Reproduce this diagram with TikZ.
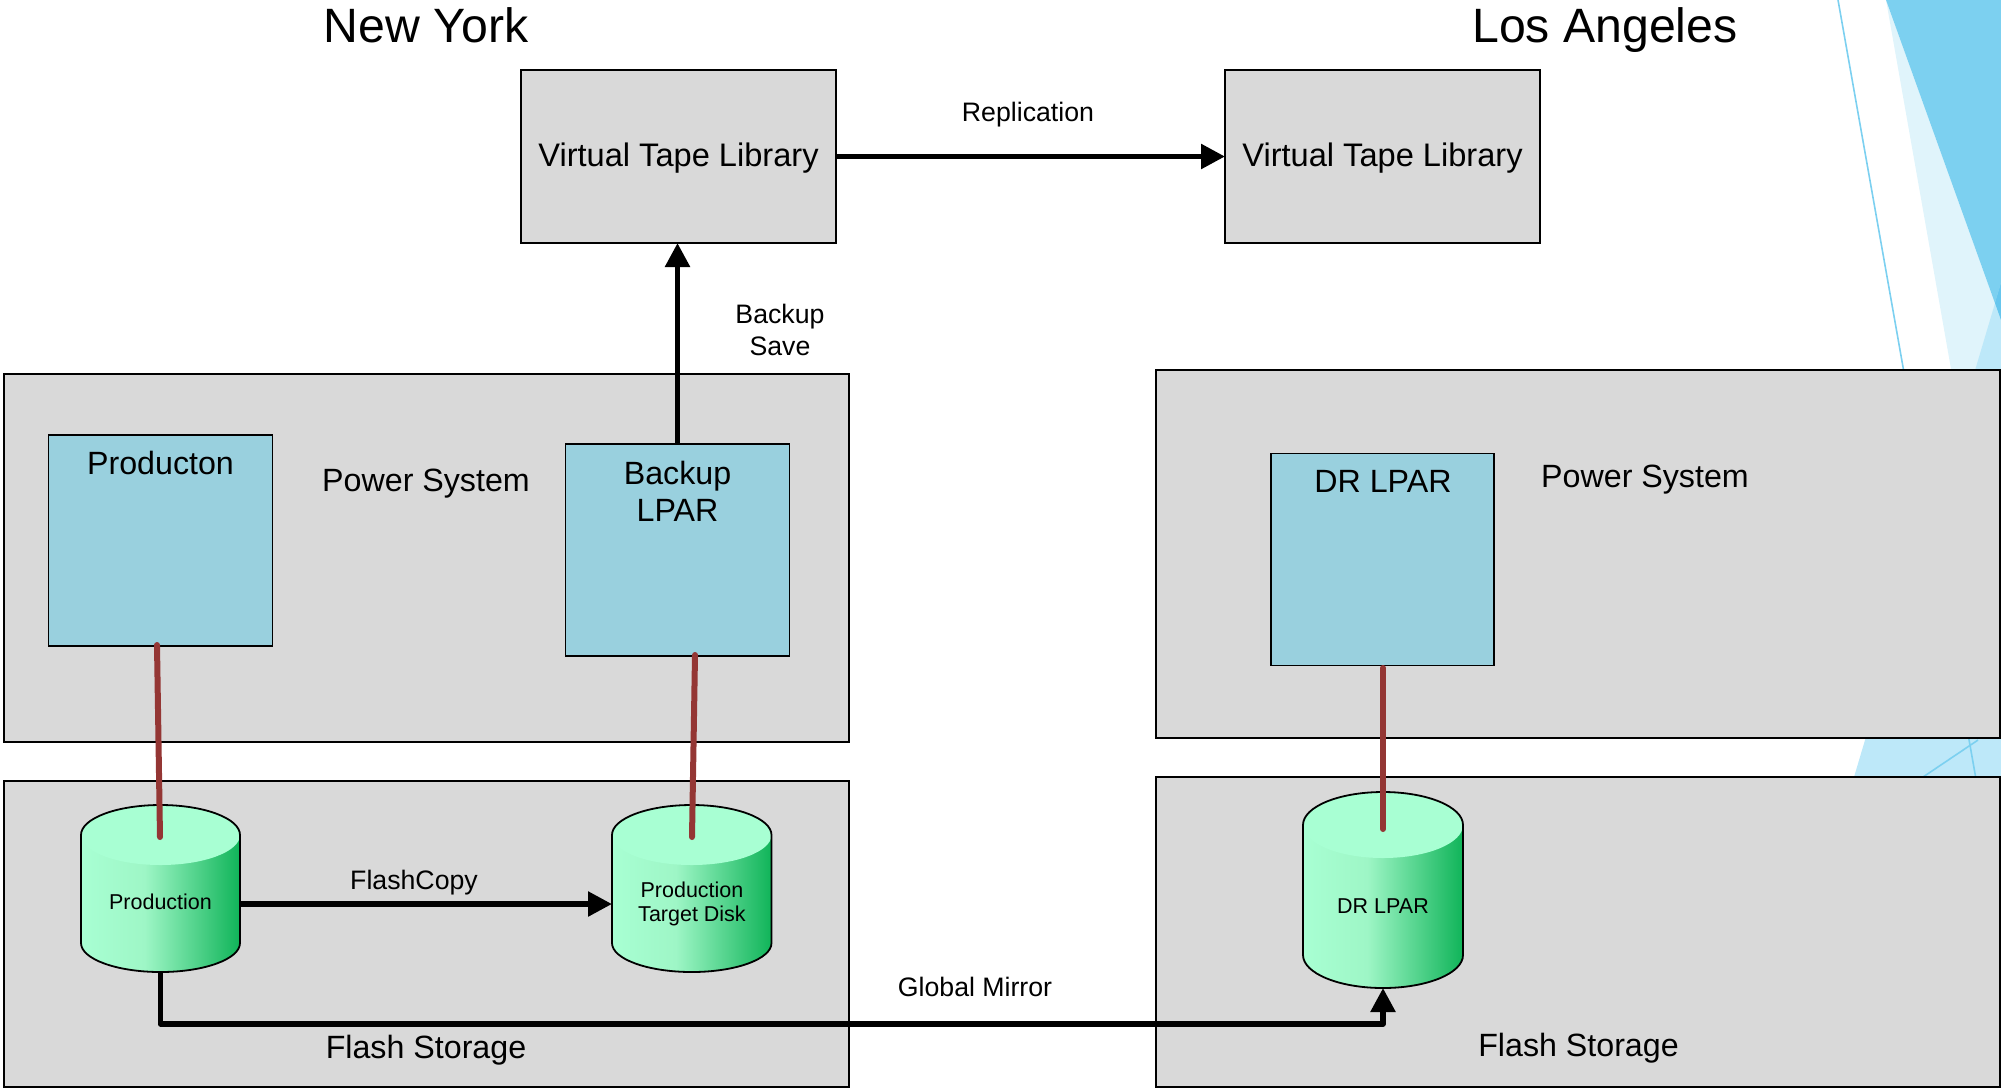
\documentclass[tikz,border=0pt]{standalone}
\usepackage{fontspec}
\setmainfont{Liberation Sans}
\usetikzlibrary{arrows.meta}
\definecolor{grayfill}{HTML}{D9D9D9}
\definecolor{lparfill}{HTML}{99D0DE}
\definecolor{cyltop}{HTML}{A8FFD3}
\definecolor{cylmid}{HTML}{9EF6C6}
\definecolor{cylend}{HTML}{10B459}
\definecolor{redline}{HTML}{943634}
\definecolor{bgdark}{HTML}{7CD0F0}
\definecolor{bglight}{HTML}{E0F4FB}
\definecolor{bglow}{HTML}{BDE8F9}
\definecolor{bgover}{HTML}{66C6EE}
\pgfdeclarehorizontalshading{cylshade}{100bp}{color(0bp)=(cyltop); color(25bp)=(cyltop); color(45bp)=(cylmid); color(75bp)=(cylend); color(100bp)=(cylend)}
\newcommand{\fs}[1]{\fontsize{#1}{#1}\selectfont}
% x1, x2, top, side start, side end, bottom
\newcommand{\cylshape}[6]{%
  \pgfmathsetmacro{\cxm}{(#1+#2)/2}%
  \pgfmathsetmacro{\crx}{(#2-#1)/2}%
  \pgfmathsetmacro{\kxa}{\cxm-0.5523*\crx}%
  \pgfmathsetmacro{\kxb}{\cxm+0.5523*\crx}%
  \pgfmathsetmacro{\rya}{#4-#3}%
  \pgfmathsetmacro{\ryb}{#6-#5}%
  \pgfmathsetmacro{\kya}{#4-0.5523*\rya}%
  \pgfmathsetmacro{\kyb}{#5+0.5523*\ryb}%
  \pgfmathsetmacro{\tbot}{#4+\rya}%
  \pgfmathsetmacro{\kyc}{#4+0.5523*\rya}%
  \shade[shading=cylshade] (#1,#4) -- (#1,#5) .. controls (#1,\kyb) and (\kxa,#6) .. (\cxm,#6) .. controls (\kxb,#6) and (#2,\kyb) .. (#2,#5) -- (#2,#4) .. controls (#2,\kya) and (\kxb,#3) .. (\cxm,#3) .. controls (\kxa,#3) and (#1,\kya) .. (#1,#4) -- cycle;
  \fill[cyltop] (#1,#4) .. controls (#1,\kya) and (\kxa,#3) .. (\cxm,#3) .. controls (\kxb,#3) and (#2,\kya) .. (#2,#4) .. controls (#2,\kyc) and (\kxb,\tbot) .. (\cxm,\tbot) .. controls (\kxa,\tbot) and (#1,\kyc) .. (#1,#4) -- cycle;
  \draw[line width=1.8pt] (#1,#4) -- (#1,#5) .. controls (#1,\kyb) and (\kxa,#6) .. (\cxm,#6) .. controls (\kxb,#6) and (#2,\kyb) .. (#2,#5) -- (#2,#4) .. controls (#2,\kya) and (\kxb,#3) .. (\cxm,#3) .. controls (\kxa,#3) and (#1,\kya) .. (#1,#4) -- cycle;
}
\tikzset{
  graybox/.style={draw=black,line width=1.8pt,fill=grayfill,inner sep=0pt,outer sep=0pt},
  lparbox/.style={draw=black,line width=1.8pt,fill=lparfill,inner sep=0pt,outer sep=0pt},
  cylnode/.style={inner sep=0pt,outer sep=0pt},
  title/.style={font=\fs{48.2},inner sep=0pt},
  big/.style={font=\fs{32.2},inner sep=0pt,align=center},
  mid/.style={font=\fs{26.7},inner sep=0pt,align=center},
  small/.style={font=\fs{21.5},inner sep=0pt,align=center},
  flow/.style={line width=5.5pt,line join=round,-{Triangle[length=24pt,width=24pt]}},
  san/.style={draw=redline,line width=6pt,line cap=round},
}
\begin{document}
\begin{tikzpicture}[x=1pt,y=-1pt]
\useasboundingbox (0,0) rectangle (2001,1088);
% background decoration
\fill[bglight] (1886,0) -- (1951,369) -- (2001,369) -- (2001,320) -- cycle;
\fill[bgdark] (1886,0) -- (2001,0) -- (2001,320) -- cycle;
\fill[bglow] (2001,283) -- (1854,777) -- (2001,777) -- (2001,320) -- (1995,303) -- cycle;
\fill[bgover] (2001,283) -- (2001,320) -- (1995,303) -- cycle;
\draw[bgdark,line width=1.6pt] (1838,0) -- (1985,830);
\draw[bgdark,line width=1.6pt] (1978,740) -- (1923,777);
% titles
\node[title,anchor=base] (ny) at (426,42) {New York};
\node[title,anchor=base] (la) at (1605,42) {Los Angeles};
% containers
\node[graybox,minimum width=845pt,minimum height=368pt] (powerL) at (426.5,558) {};
\node[graybox,minimum width=845pt,minimum height=306pt] (flashL) at (426.5,934) {};
\node[graybox,minimum width=844pt,minimum height=368pt] (powerR) at (1578,554) {};
\node[graybox,minimum width=844pt,minimum height=310pt] (flashR) at (1578,932) {};
\node[graybox,minimum width=315pt,minimum height=173pt] (vtlL) at (678.5,156.5) {};
\node[graybox,minimum width=315pt,minimum height=173pt] (vtlR) at (1382.5,156.5) {};
\node[big,font=\fs{32.6}] (vtlLt) at (678.5,158.5) {Virtual Tape Library};
\node[big,font=\fs{32.6}] (vtlRt) at (1382.5,158.5) {Virtual Tape Library};
% LPARs
\node[lparbox,minimum width=224pt,minimum height=211pt] (lparP) at (160.5,540.5) {};
\node[lparbox,minimum width=224pt,minimum height=212pt] (lparB) at (677.5,550) {};
\node[lparbox,minimum width=223pt,minimum height=212pt] (lparD) at (1382.5,559.5) {};
% cylinders
\cylshape{81}{240}{805}{835}{943}{972}
\cylshape{612}{771.5}{805}{835}{943}{972}
\cylshape{1303}{1463}{792}{825}{955}{988}
\node[cylnode,minimum width=159pt,minimum height=167pt] (cylP) at (160.5,888.5) {};
\node[cylnode,minimum width=159.5pt,minimum height=167pt] (cylT) at (691.75,888.5) {};
\node[cylnode,minimum width=160pt,minimum height=196pt] (cylD) at (1383,890) {};
% labels
\node[big] (lblP) at (160.5,463) {Producton};
\node[big] (lblB) at (677.5,491) {Backup\\[5pt]LPAR};
\node[big] (lblD) at (1383,481) {DR LPAR};
\node[big] (pwL) at (426,484) {Power System};
\node[big] (pwR) at (1645,480) {Power System};
\node[big] (fsL) at (426,1050) {Flash Storage};
\node[big] (fsR) at (1578.5,1048) {Flash Storage};
\node[small] (dP) at (160.5,902) {Production};
\node[small] (dT) at (692,904) {Production\\[3pt]Target Disk};
\node[small] (dD) at (1383,906) {DR LPAR};
\node[mid] (rep) at (1028,115) {Replication};
\node[mid] (bs) at (780,330) {Backup\\[6pt]Save};
\node[mid] (fc) at (414,883) {FlashCopy};
\node[mid] (gmir) at (975,987) {Global Mirror};
% connector helpers
\coordinate (fcy) at (0,904);
\coordinate (gmy) at (0,1024);
\coordinate (r1a) at (157,645);
\coordinate (r1b) at (160,837);
\coordinate (r2a) at (695,655);
\coordinate (r2b) at (692,837);
\coordinate (r3a) at (1383,668);
\coordinate (r3b) at (1383,829);
% connectors
\draw[san] (r1a) -- (r1b);
\draw[san] (r2a) -- (r2b);
\draw[san] (r3a) -- (r3b);
\draw[flow] (vtlL.east) -- (vtlR.west);
\draw[flow] (lparB.north) -- (lparB.north |- vtlL.south);
\draw[flow] (cylP.east |- fcy) -- (cylT.west |- fcy);
\draw[flow] (cylP.south) -- (cylP.south |- gmy) -- (cylD.south |- gmy) -- (cylD.south);
\end{tikzpicture}
\end{document}
